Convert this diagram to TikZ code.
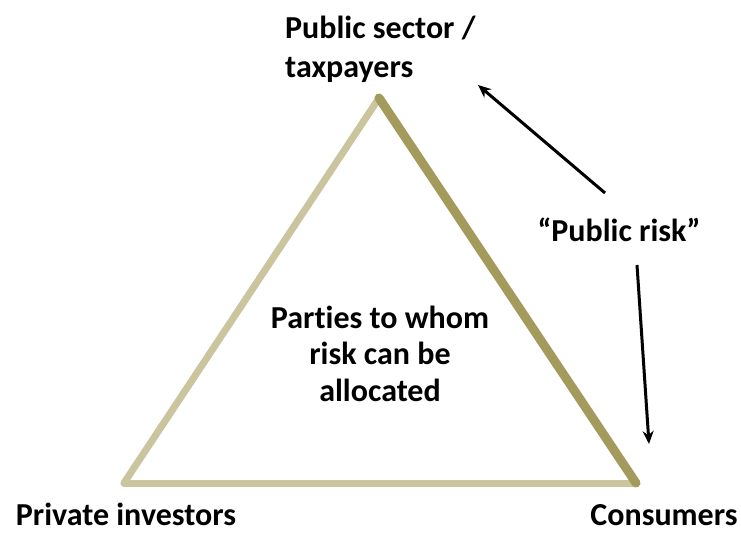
\documentclass[tikz,border=0pt]{standalone}
\usepackage{fontspec}
\setmainfont[Ligatures=NoCommon]{Carlito}
\usetikzlibrary{arrows.meta}
\definecolor{tanlight}{HTML}{CBC59F}
\definecolor{olive}{HTML}{A39B5B}
\begin{document}
\begin{tikzpicture}[x=1pt,y=-1pt,
  lbl/.style={font=\bfseries\fontsize{32}{39}\selectfont, inner sep=0pt},
  edge/.style={line width=7pt, line cap=round, line join=round},
  arr/.style={line width=3pt, -{Stealth[length=13pt,width=11pt]}}]
\useasboundingbox (0,0) rectangle (741,534);
\coordinate (apex) at (379,98);
\coordinate (bl) at (124,483);
\coordinate (br) at (636,483);
\draw[edge, tanlight] (bl) -- (br);
\draw[edge, tanlight] (bl) -- (apex);
\draw[edge, olive, line width=9pt] (apex) -- (br);
\node[lbl, align=left, anchor=north west] (pub) at (285,15.5) {Public sector /\\taxpayers};
\node[lbl, anchor=base] (risk) at (619,242) {“Public risk”};
\node[lbl, align=center, anchor=north, font=\bfseries\fontsize{32}{36.5}\selectfont] (mid) at (380,305.5) {Parties to whom\\risk can be\\allocated};
\node[lbl, anchor=base, text depth=0pt] (priv) at (126,525) {Private investors};
\node[lbl, anchor=base, text depth=0pt] (cons) at (664,525) {Consumers};
\coordinate (a1s) at (605,193);
\coordinate (a1e) at (478,85);
\coordinate (a2s) at (637,265);
\coordinate (a2e) at (649,444);
\draw[arr] (a1s) -- (a1e);
\draw[arr] (a2s) -- (a2e);
\end{tikzpicture}
\end{document}
